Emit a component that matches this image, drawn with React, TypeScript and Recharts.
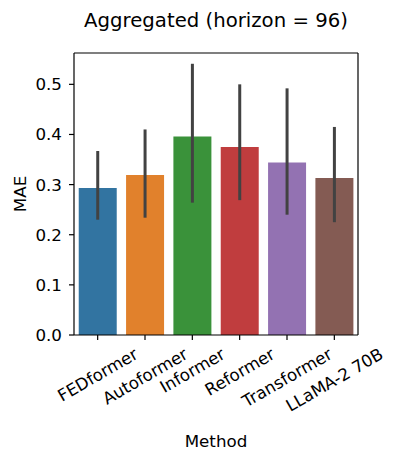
import React from 'react';
import { BarChart, Bar, XAxis, YAxis, ErrorBar, Cell, Label, CartesianGrid } from 'recharts';

// values (seaborn barplot, mean with CI)
const methods = ['FEDformer', 'Autoformer', 'Informer', 'Reformer', 'Transformer', 'LLaMA-2 70B'];
const maeMean = [0.293, 0.319, 0.396, 0.375, 0.344, 0.313];
const ciLow = [0.230, 0.234, 0.264, 0.269, 0.240, 0.225];
const ciHigh = [0.367, 0.410, 0.541, 0.500, 0.492, 0.415];
const barColors = ['#3274a1', '#e1812c', '#3a923a', '#c03d3e', '#9372b2', '#845b53'];
const yTicks = [0, 0.1, 0.2, 0.3, 0.4, 0.5];

const FONT = 'DejaVu Sans';
const TICK_PX = 16.7;

const data = methods.map((method, i) => ({
  method,
  mae: maeMean[i],
  err: [maeMean[i] - ciLow[i], ciHigh[i] - maeMean[i]],
}));

let ctx: CanvasRenderingContext2D | null = null;
const textWidth = (s: string) => {
  if (!ctx) ctx = document.createElement('canvas').getContext('2d');
  if (!ctx) return s.length * TICK_PX * 0.6;
  ctx.font = `${TICK_PX}px "${FONT}"`;
  return ctx.measureText(s).width;
};

// rotated 30deg, centred on the tick like matplotlib's ha='center'
const MethodTick = (props: any) => {
  const { x, y, payload } = props;
  const w = textWidth(payload.value);
  const h = TICK_PX * 1.16;
  const cy = y - 1 + (w * 0.5 + h * 0.866) / 2;
  return (
    <text
      x={x}
      y={cy}
      transform={`rotate(-30 ${x} ${cy})`}
      textAnchor="middle"
      dominantBaseline="central"
      fontSize={TICK_PX}
      fontFamily={FONT}
      fill="#000"
    >
      {payload.value}
    </text>
  );
};

const App: React.FC = () => {
  return (
    <div style={{ position: 'absolute', left: 0, top: 0, width: 399, height: 462, fontFamily: FONT }}>
      <div
        style={{
          position: 'absolute',
          left: 74,
          top: 11,
          width: 284,
          textAlign: 'center',
          fontSize: 19.7,
          lineHeight: '20px',
          color: '#000',
          whiteSpace: 'nowrap',
        }}
      >
        Aggregated (horizon = 96)
      </div>
      <BarChart
        width={399}
        height={462}
        data={data}
        margin={{ top: 53, right: 41, bottom: 0, left: 0 }}
        barCategoryGap="10%"
      >
        {/* top and right spines */}
        <CartesianGrid
          stroke="#000"
          strokeWidth={1.2}
          horizontalCoordinatesGenerator={(p: any) => [p.offset.top]}
          verticalCoordinatesGenerator={(p: any) => [p.offset.left + p.offset.width]}
        />
        <XAxis
          dataKey="method"
          height={127}
          tick={<MethodTick />}
          tickSize={5}
          tickMargin={5}
          tickLine={{ stroke: '#000', strokeWidth: 1.2 }}
          axisLine={{ stroke: '#000', strokeWidth: 1.2 }}
          interval={0}
        >
          <Label
            content={(p: any) => (
              <text
                x={p.viewBox.x + p.viewBox.width / 2}
                y={p.viewBox.y + 112}
                textAnchor="middle"
                fontSize={16.7}
                fontFamily={FONT}
                fill="#000"
              >
                Method
              </text>
            )}
          />
        </XAxis>
        <YAxis
          width={74}
          domain={[0, 0.5625]}
          ticks={yTicks}
          allowDataOverflow
          tickFormatter={(v: number) => v.toFixed(1)}
          tick={{ fontSize: TICK_PX, fontFamily: FONT, fill: '#000' }}
          tickSize={5}
          tickMargin={7}
          tickLine={{ stroke: '#000', strokeWidth: 1.2 }}
          axisLine={{ stroke: '#000', strokeWidth: 1.2 }}
        >
          <Label
            content={(p: any) => (
              <text
                x={26}
                y={p.viewBox.y + p.viewBox.height / 2}
                transform={`rotate(-90 26 ${p.viewBox.y + p.viewBox.height / 2})`}
                textAnchor="middle"
                fontSize={16.7}
                fontFamily={FONT}
                fill="#000"
              >
                MAE
              </text>
            )}
          />
        </YAxis>
        <Bar dataKey="mae" isAnimationActive={false}>
          {data.map((d, i) => (
            <Cell key={d.method} fill={barColors[i]} />
          ))}
          <ErrorBar dataKey="err" width={0} stroke="#424242" strokeWidth={3} direction="y" />
        </Bar>
      </BarChart>
    </div>
  );
};

export default App;
